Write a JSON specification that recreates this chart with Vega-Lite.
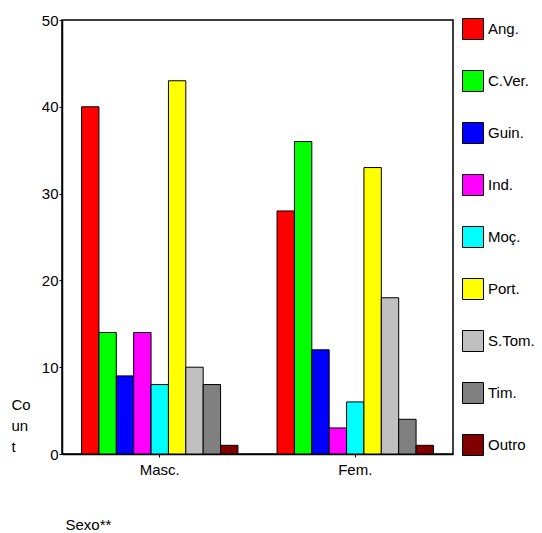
{
  "$schema": "https://vega.github.io/schema/vega-lite/v6.json",
  "autosize": "none",
  "width": 391,
  "height": 434,
  "padding": {"left": 62, "top": 20, "right": 89, "bottom": 79},
  "background": "white",
  "config": {
    "font": "Liberation Sans",
    "view": {"stroke": "black", "strokeWidth": 1.5}
  },
  "data": {
    "values": [
      {"sexo": "Masc.", "origem": "Ang.", "count": 40},
      {"sexo": "Masc.", "origem": "C.Ver.", "count": 14},
      {"sexo": "Masc.", "origem": "Guin.", "count": 9},
      {"sexo": "Masc.", "origem": "Ind.", "count": 14},
      {"sexo": "Masc.", "origem": "Moç.", "count": 8},
      {"sexo": "Masc.", "origem": "Port.", "count": 43},
      {"sexo": "Masc.", "origem": "S.Tom.", "count": 10},
      {"sexo": "Masc.", "origem": "Tim.", "count": 8},
      {"sexo": "Masc.", "origem": "Outro", "count": 1},
      {"sexo": "Fem.", "origem": "Ang.", "count": 28},
      {"sexo": "Fem.", "origem": "C.Ver.", "count": 36},
      {"sexo": "Fem.", "origem": "Guin.", "count": 12},
      {"sexo": "Fem.", "origem": "Ind.", "count": 3},
      {"sexo": "Fem.", "origem": "Moç.", "count": 6},
      {"sexo": "Fem.", "origem": "Port.", "count": 33},
      {"sexo": "Fem.", "origem": "S.Tom.", "count": 18},
      {"sexo": "Fem.", "origem": "Tim.", "count": 4},
      {"sexo": "Fem.", "origem": "Outro", "count": 1}
    ]
  },
  "mark": {"type": "bar", "stroke": "black", "strokeWidth": 1},
  "encoding": {
    "x": {
      "field": "sexo",
      "type": "nominal",
      "sort": ["Masc.", "Fem."],
      "scale": {"paddingInner": 0.2, "paddingOuter": 0.1},
      "axis": {
        "title": "Sexo**",
        "titleFont": "Liberation Sans",
        "titleFontSize": 15,
        "titleFontWeight": "normal",
        "titleColor": "black",
        "titleAnchor": "start",
        "titleAlign": "left",
        "titleBaseline": "alphabetic",
        "titleX": 3,
        "titleY": 75,
        "labelAngle": 0,
        "labelFontSize": 15,
        "labelColor": "black",
        "labelPadding": 5,
        "tickSize": 3,
        "tickColor": "black",
        "domainColor": "black",
        "domainWidth": 1.5
      }
    },
    "xOffset": {
      "field": "origem",
      "type": "nominal",
      "sort": ["Ang.", "C.Ver.", "Guin.", "Ind.", "Moç.", "Port.", "S.Tom.", "Tim.", "Outro"],
      "scale": {"paddingInner": 0, "paddingOuter": 0}
    },
    "y": {
      "field": "count",
      "type": "quantitative",
      "scale": {"domain": [0, 50], "nice": false},
      "axis": {
        "values": [0, 10, 20, 30, 40, 50],
        "grid": false,
        "title": ["Co", "un", "t"],
        "titleFont": "Liberation Sans",
        "titleFontSize": 15,
        "titleFontWeight": "normal",
        "titleColor": "black",
        "titleAngle": 0,
        "titleAlign": "left",
        "titleBaseline": "top",
        "titleLineHeight": 21,
        "titleX": -51,
        "titleY": 377,
        "labelFontSize": 15,
        "labelColor": "black",
        "labelPadding": 1,
        "tickSize": 3,
        "tickColor": "black",
        "domainColor": "black",
        "domainWidth": 1.5
      }
    },
    "color": {
      "field": "origem",
      "type": "nominal",
      "sort": ["Ang.", "C.Ver.", "Guin.", "Ind.", "Moç.", "Port.", "S.Tom.", "Tim.", "Outro"],
      "scale": {
        "domain": ["Ang.", "C.Ver.", "Guin.", "Ind.", "Moç.", "Port.", "S.Tom.", "Tim.", "Outro"],
        "range": ["#ff0000", "#00ff00", "#0000ff", "#ff00ff", "#00ffff", "#ffff00", "#c0c0c0", "#808080", "#800000"]
      },
      "legend": {
        "title": null,
        "orient": "none",
        "legendX": 400,
        "legendY": -2,
        "symbolType": "square",
        "symbolSize": 441,
        "symbolStrokeColor": "black",
        "symbolStrokeWidth": 1,
        "symbolOpacity": 1,
        "labelFontSize": 15,
        "labelColor": "black",
        "labelOffset": 4,
        "rowPadding": 26
      }
    }
  }
}
